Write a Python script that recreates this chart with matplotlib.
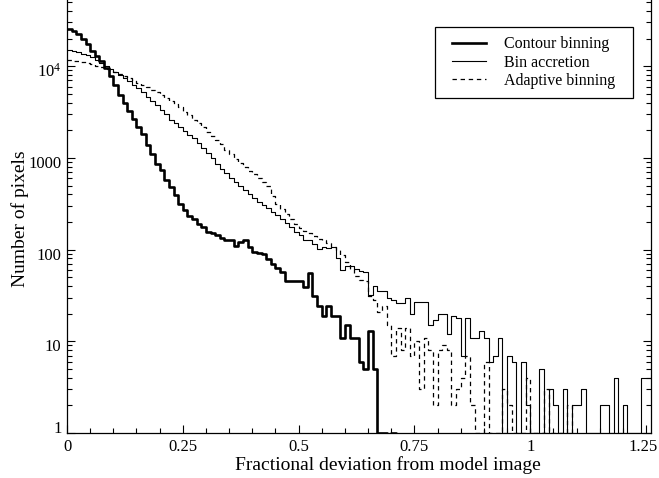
import numpy as np
import matplotlib
matplotlib.use("Agg")
import matplotlib.pyplot as plt
import matplotlib.transforms as mtransforms
from matplotlib.patches import Rectangle
from matplotlib.ticker import FixedLocator, NullFormatter, LogLocator

# Histogram bin width (fractional deviation) and counts per bin
bin_width = 0.01

contour_binning = [25500, 24300, 22500, 20000, 17600, 14700, 13000, 11400, 9600, 7800,
                   6300, 4800, 4000, 3250, 2650, 2150, 1830, 1400, 1100, 860,
                   730, 570, 485, 390, 315, 268, 235, 216, 190, 176,
                   156, 150, 143, 135, 128, 126, 110, 121, 126, 107,
                   93, 92, 90, 79, 70, 63, 57, 46, 45, 45,
                   45, 39, 55, 31, 24, 19, 24, 19, 19, 11,
                   15, 11, 11, 6, 5, 13, 5, 1, 1, 0,
                   1, 0]

bin_accretion = [15000, 14600, 14200, 13700, 13200, 12700, 11800, 10900, 10000, 9300,
                 8600, 8000, 7500, 6900, 6300, 5800, 5200, 4650, 4200, 3750,
                 3350, 3000, 2600, 2380, 2150, 1960, 1780, 1640, 1460, 1270,
                 1130, 990, 850, 760, 680, 605, 550, 495, 447, 400,
                 362, 334, 306, 282, 258, 240, 216, 197, 178, 154,
                 145, 128, 126, 116, 102, 107, 105, 106, 80, 60,
                 67, 67, 62, 59, 57, 32, 40, 35, 35, 30,
                 28, 26, 26, 30, 20, 27, 27, 27, 15, 17,
                 20, 20, 12, 19, 18, 7, 18, 11, 11, 13,
                 11, 6, 7, 11, 1, 7, 6, 1, 6, 2,
                 1, 1, 5, 1, 3, 2, 1, 3, 1, 2,
                 2, 3, 1, 1, 1, 2, 2, 1, 4, 1,
                 2, 1, 1, 1, 4, 4]

adaptive_binning = [11700, 11500, 11300, 11000, 10800, 10500, 10100, 9700, 9300, 8900,
                    8600, 8200, 7800, 7400, 7100, 6600, 6300, 5900, 5500, 5200,
                    4850, 4500, 4150, 3900, 3550, 3180, 2900, 2620, 2390, 2160,
                    1930, 1740, 1560, 1420, 1230, 1090, 980, 885, 800, 725,
                    660, 603, 546, 500, 385, 318, 280, 242, 213, 192,
                    170, 160, 151, 141, 132, 127, 117, 108, 98, 87,
                    73, 62, 51, 47, 45, 31, 28, 21, 24, 15,
                    7, 14, 8, 14, 7, 10, 3, 11, 8, 2,
                    8, 9, 8, 2, 3, 4, 7, 2, 1, 1,
                    6, 1, 1, 1, 3, 2, 1, 1, 1, 4,
                    1, 1, 1, 3, 1, 1, 1, 1, 2, 0,
                    0]

series_labels = ["Contour binning", "Bin accretion", "Adaptive binning"]
x_ticks = [0, 0.25, 0.5, 0.75, 1, 1.25]
x_tick_labels = ["0", "0.25", "0.5", "0.75", "1", "1.25"]
y_ticks = [1, 10, 100, 1000, 10000]
y_tick_labels = ["1", "10", "100", "1000", r"10$^{4}$"]

plt.rcParams["font.family"] = ["Liberation Serif", "DejaVu Serif"]
plt.rcParams["mathtext.fontset"] = "custom"
plt.rcParams["mathtext.rm"] = "Liberation Serif"
plt.rcParams["mathtext.it"] = "Liberation Serif:italic"

W, H = 659, 478
fig = plt.figure(figsize=(W / 100, H / 100), dpi=100)
ax = fig.add_axes([67 / W, 1 - 433 / H, (651 - 67) / W, 433 / H])


def draw(values, **kw):
    v = np.asarray(values, dtype=float)
    edges = np.arange(len(v) + 1) * bin_width
    yv = np.append(v, v[-1])
    return ax.step(edges, yv, where="post", **kw)[0]


l1 = draw(contour_binning, color="black", lw=1.9, label=series_labels[0])
l2 = draw(bin_accretion, color="black", lw=0.8, label=series_labels[1])
l3 = draw(adaptive_binning, color="black", lw=0.9, linestyle=(0, (3.5, 3)),
          label=series_labels[2])

ax.set_yscale("log", nonpositive="clip")
ax.set_xlim(0, 1.2608)
ax.set_ylim(1, 10 ** (433 / 91.7))

ax.xaxis.set_major_locator(FixedLocator(x_ticks))
ax.set_xticklabels(x_tick_labels)
ax.xaxis.set_minor_locator(FixedLocator(np.arange(0, 1.3, 0.05)))
ax.yaxis.set_major_locator(FixedLocator(y_ticks))
ax.set_yticklabels(y_tick_labels)
ax.yaxis.set_minor_locator(LogLocator(base=10, subs=np.arange(2, 10)))
ax.yaxis.set_minor_formatter(NullFormatter())

ax.tick_params(which="both", direction="in", top=False, right=True,
               labelsize=12, width=0.8, colors="black", pad=4)
ax.tick_params(which="major", length=6)
ax.tick_params(which="minor", length=3.5)
for s in ["left", "bottom", "right"]:
    ax.spines[s].set_linewidth(0.9)
ax.spines["top"].set_visible(False)

ax.set_xlabel("Fractional deviation from model image", fontsize=14)
ax.xaxis.set_label_coords((388 - 67) / 584, -(474 - 433) / 433)
ax.xaxis.label.set_va("bottom")
ax.set_ylabel("Number of pixels", fontsize=14)
ax.yaxis.set_label_coords(-(67 - 20) / 584, (433 - 219) / 433)
ax.yaxis.label.set_va("center")

# legend entries (no frame) plus a plain rectangular box
leg = ax.legend(handles=[l1, l2, l3], loc="upper left",
                bbox_to_anchor=(451.5 / W, 1 - 36.5 / H), bbox_transform=fig.transFigure,
                borderaxespad=0, borderpad=0, fontsize=11.5, frameon=False,
                handlelength=2.19, handletextpad=1.1, labelspacing=0.14)
fig.add_artist(Rectangle((435 / W, 1 - 98 / H), 198 / W, 71 / H,
                         transform=fig.transFigure, fill=False,
                         edgecolor="black", linewidth=0.9))

# small label offsets to match the reference placement
def shift(artist, dx_px, dy_px):
    off = mtransforms.ScaledTranslation(dx_px / 100, dy_px / 100, fig.dpi_scale_trans)
    artist.set_transform(artist.get_transform() + off)

fig.canvas.draw()
for tick, lab in zip(ax.yaxis.get_major_ticks(), y_tick_labels):
    shift(tick.label1, 0, 6 if lab == "1" else -4)
xt = ax.xaxis.get_major_ticks()
shift(xt[-1].label1, -3, 0)

fig.savefig("out.png", dpi=100)
